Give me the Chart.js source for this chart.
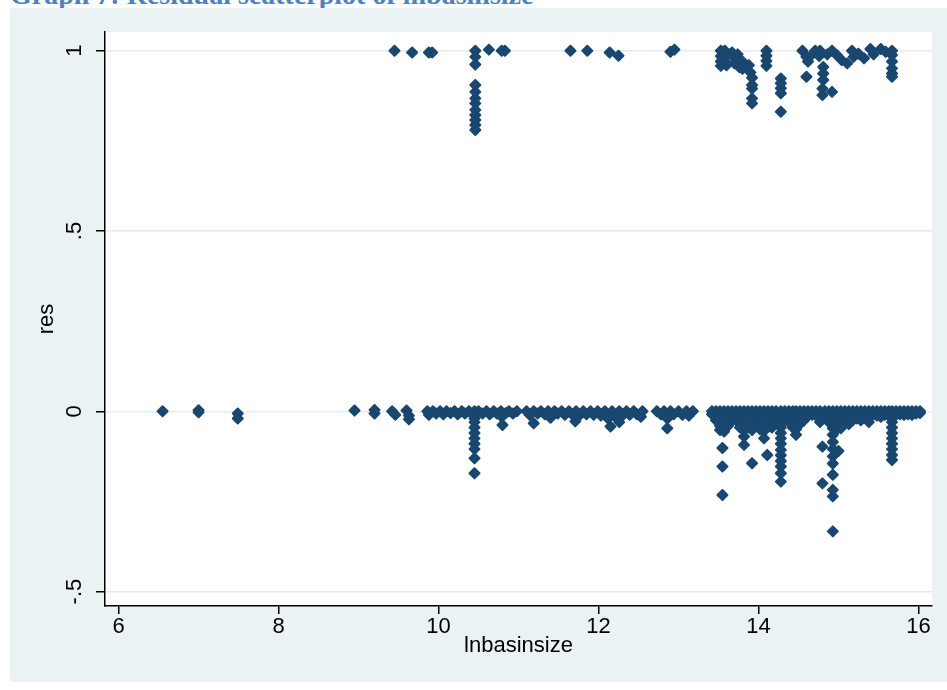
<!DOCTYPE html>
<html>
<head>
<meta charset="utf-8">
<script src="https://cdn.jsdelivr.net/npm/chart.js@4"></script>
<style>
  body { margin: 0; background: #fff; width: 947px; height: 690px; overflow: hidden; position: relative; }
  .caption { position: absolute; left: 10px; top: -19px; font: bold 28px/28px "Liberation Serif", serif; color: #4f81bd; white-space: nowrap; }
  .frame { position: absolute; left: 10px; top: 8px; width: 937px; height: 674px; background: #eaf2f3; }
  canvas { display: block; }
</style>
</head>
<body>
<div class="caption">Graph 7: Residual scatterplot of lnbasinsize</div>
<div class="frame"><canvas id="chart" width="937" height="674"></canvas></div>
<script>
// axis ticks
const xTicks = [6, 8, 10, 12, 14, 16];
const yTicks = [-0.5, 0, 0.5, 1];
const yTickLabels = ['-.5', '0', '.5', '1'];

// points as [lnbasinsize, res]
const upperLeft = [
  [9.45, 1.0], [9.67, 0.995], [9.88, 0.995], [9.92, 0.995],
  [10.46, 1.0], [10.46, 0.983], [10.46, 0.962], [10.46, 0.905], [10.46, 0.886], [10.46, 0.868],
  [10.46, 0.854], [10.46, 0.836], [10.46, 0.822], [10.46, 0.808], [10.46, 0.794], [10.46, 0.78],
  [10.63, 1.003], [10.79, 1.0], [10.83, 1.0],
  [11.65, 1.0], [11.86, 1.0], [12.14, 0.995], [12.25, 0.986],
  [12.9, 0.997], [12.95, 1.003]
];

const upperRight = [
  [13.53, 1.0], [13.53, 0.985], [13.53, 0.97], [13.53, 0.958], [13.58, 1.0], [13.58, 0.985], [13.58, 0.97], [13.6, 0.96],
  [13.67, 0.995], [13.7, 0.98], [13.7, 0.965], [13.74, 0.99], [13.76, 0.975], [13.76, 0.955], [13.8, 0.97], [13.8, 0.95],
  [13.88, 0.96], [13.9, 0.94], [13.92, 0.925], [13.92, 0.905], [13.92, 0.895], [13.92, 0.868], [13.92, 0.854],
  [14.1, 1.0], [14.1, 0.986], [14.1, 0.972], [14.1, 0.958],
  [14.28, 0.923], [14.28, 0.91], [14.28, 0.896], [14.28, 0.882], [14.28, 0.831],
  [14.55, 1.0], [14.6, 0.983], [14.62, 0.97], [14.6, 0.928], [14.67, 0.99], [14.71, 1.0], [14.77, 1.0], [14.76, 0.985],
  [14.81, 0.955], [14.81, 0.937], [14.81, 0.919], [14.8, 0.895], [14.8, 0.877], [14.92, 0.886], [14.92, 1.0], [14.86, 0.99],
  [14.98, 0.988], [15.04, 0.974], [15.11, 0.965], [15.17, 1.0], [15.19, 0.983], [15.25, 0.992], [15.32, 0.979],
  [15.4, 1.005], [15.44, 0.99], [15.53, 1.005], [15.59, 0.997],
  [15.67, 1.0], [15.67, 0.988], [15.67, 0.97], [15.67, 0.951], [15.67, 0.937], [15.67, 0.928]
];

const lowerLeft = [
  [6.55, 0.0], [7.0, 0.003], [7.0, -0.003], [7.49, -0.006], [7.49, -0.02],
  [8.95, 0.002], [9.2, 0.004], [9.2, -0.006], [9.42, 0.0], [9.46, -0.01], [9.6, 0.002], [9.63, -0.012], [9.63, -0.022],
  [9.86, 0.0], [9.88, -0.01], [9.93, 0.0], [9.97, -0.006], [10.02, 0.0], [10.06, -0.008], [10.1, 0.0], [10.15, -0.005],
  [10.2, 0.0], [10.24, -0.008], [10.29, 0.0], [10.33, -0.006], [10.38, 0.0], [10.45, 0.0], [10.45, -0.01], [10.45, -0.02],
  [10.45, -0.03], [10.45, -0.045], [10.45, -0.06], [10.45, -0.075], [10.45, -0.09], [10.45, -0.105], [10.45, -0.13], [10.45, -0.172],
  [10.5, 0.0], [10.55, -0.006], [10.6, 0.0], [10.64, -0.008], [10.69, 0.0], [10.73, -0.006], [10.78, 0.0], [10.79, -0.015],
  [10.8, -0.038], [10.84, -0.005], [10.88, 0.0], [10.93, -0.006], [10.98, 0.0]
];

const lowerMid = [
  [11.1, 0.0], [11.14, -0.01], [11.19, -0.033], [11.19, 0.0], [11.24, -0.006], [11.28, 0.0], [11.33, -0.008], [11.37, 0.0],
  [11.4, -0.018], [11.45, 0.0], [11.49, -0.006], [11.54, 0.0], [11.58, -0.01], [11.63, 0.0], [11.67, -0.008], [11.71, -0.028],
  [11.72, 0.0], [11.76, -0.012], [11.81, 0.0], [11.85, -0.008], [11.9, 0.0], [11.94, -0.01], [11.99, 0.0], [12.03, -0.012],
  [12.08, 0.0], [12.12, -0.02], [12.15, -0.042], [12.17, 0.0], [12.21, -0.015], [12.26, -0.03], [12.26, 0.0], [12.3, -0.012],
  [12.35, 0.0], [12.39, -0.01], [12.44, 0.0], [12.48, -0.008], [12.53, -0.015], [12.55, 0.0],
  [12.73, 0.0], [12.78, -0.008], [12.82, 0.0], [12.86, -0.02], [12.86, -0.047], [12.9, 0.0], [12.94, -0.008], [13.0, 0.0],
  [13.05, -0.01], [13.1, 0.0], [13.13, -0.012], [13.18, 0.0]
];

const lowerRight = [
  [13.42, 0.0], [13.42, -0.008], [13.47, 0.0], [13.47, -0.012], [13.47, -0.025],
  [13.52, 0.0], [13.52, -0.012], [13.52, -0.025], [13.52, -0.04], [13.52, -0.052],
  [13.55, -0.102], [13.55, -0.153], [13.55, -0.232],
  [13.57, 0.0], [13.57, -0.015], [13.57, -0.03], [13.57, -0.045], [13.57, -0.056],
  [13.62, 0.0], [13.62, -0.012], [13.62, -0.025], [13.62, -0.04],
  [13.67, 0.0], [13.67, -0.012], [13.67, -0.024], [13.72, 0.0], [13.72, -0.012], [13.72, -0.025],
  [13.77, 0.0], [13.77, -0.015], [13.77, -0.03], [13.77, -0.045],
  [13.82, 0.0], [13.82, -0.015], [13.82, -0.03], [13.82, -0.05], [13.82, -0.07], [13.82, -0.093],
  [13.87, 0.0], [13.87, -0.012], [13.87, -0.03], [13.87, -0.045],
  [13.92, 0.0], [13.92, -0.015], [13.92, -0.035], [13.92, -0.052], [13.92, -0.144],
  [13.97, 0.0], [13.97, -0.012], [13.97, -0.025], [13.97, -0.04],
  [14.02, 0.0], [14.02, -0.015], [14.02, -0.03], [14.02, -0.05],
  [14.07, 0.0], [14.07, -0.015], [14.07, -0.035], [14.07, -0.055], [14.07, -0.075], [14.11, -0.121],
  [14.12, 0.0], [14.12, -0.012], [14.12, -0.025], [14.17, 0.0], [14.17, -0.012], [14.17, -0.03], [14.17, -0.045],
  [14.22, 0.0], [14.22, -0.015], [14.22, -0.03],
  [14.28, 0.0], [14.28, -0.015], [14.28, -0.03], [14.28, -0.045], [14.28, -0.06], [14.28, -0.075], [14.28, -0.09],
  [14.28, -0.107], [14.28, -0.122], [14.28, -0.138], [14.28, -0.153], [14.28, -0.172], [14.28, -0.195],
  [14.33, 0.0], [14.33, -0.012], [14.33, -0.025], [14.38, 0.0], [14.38, -0.015], [14.38, -0.03],
  [14.43, 0.0], [14.43, -0.015], [14.43, -0.03], [14.43, -0.045],
  [14.47, 0.0], [14.47, -0.012], [14.47, -0.03], [14.47, -0.05], [14.47, -0.065],
  [14.52, 0.0], [14.52, -0.015], [14.52, -0.035], [14.57, 0.0], [14.57, -0.012], [14.57, -0.025],
  [14.62, 0.0], [14.62, -0.012], [14.67, 0.0], [14.67, -0.01], [14.72, 0.0], [14.72, -0.012],
  [14.77, 0.0], [14.77, -0.015], [14.77, -0.03], [14.8, -0.098], [14.8, -0.2],
  [14.83, 0.0], [14.83, -0.015], [14.88, 0.0], [14.88, -0.015], [14.88, -0.03],
  [14.93, 0.0], [14.93, -0.015], [14.93, -0.03], [14.93, -0.047], [14.93, -0.065], [14.93, -0.085], [14.93, -0.105],
  [14.93, -0.125], [14.93, -0.145], [14.93, -0.176], [14.93, -0.218], [14.93, -0.236], [14.93, -0.333],
  [14.98, 0.0], [14.98, -0.012], [14.98, -0.03], [14.98, -0.05], [15.0, -0.11],
  [15.03, 0.0], [15.03, -0.015], [15.03, -0.03], [15.03, -0.047],
  [15.08, 0.0], [15.08, -0.012], [15.08, -0.025], [15.13, 0.0], [15.13, -0.012], [15.13, -0.025], [15.13, -0.035],
  [15.18, 0.0], [15.18, -0.012], [15.18, -0.025], [15.23, 0.0], [15.23, -0.012], [15.23, -0.02],
  [15.28, 0.0], [15.28, -0.012], [15.28, -0.025], [15.33, 0.0], [15.33, -0.012],
  [15.38, 0.0], [15.38, -0.015], [15.38, -0.03], [15.43, 0.0], [15.43, -0.01], [15.48, 0.0], [15.48, -0.012],
  [15.53, 0.0], [15.53, -0.015], [15.58, 0.0], [15.58, -0.01], [15.63, 0.0], [15.63, -0.012],
  [15.67, 0.0], [15.67, -0.015], [15.67, -0.03], [15.67, -0.045], [15.67, -0.06], [15.67, -0.075], [15.67, -0.09],
  [15.67, -0.105], [15.67, -0.121], [15.67, -0.135],
  [15.72, 0.0], [15.72, -0.01], [15.77, 0.0], [15.77, -0.008], [15.82, 0.0], [15.82, -0.01],
  [15.87, 0.0], [15.87, -0.008], [15.92, 0.0], [15.92, -0.01], [15.97, 0.0], [15.97, -0.006], [16.02, 0.0], [16.02, -0.005]
];

const points = [...upperLeft, ...upperRight, ...lowerLeft, ...lowerMid, ...lowerRight]
  .map(([x, y]) => ({ x, y }));

const textFont = '"Liberation Sans", Arial, sans-serif';

// white plot region like stata's
const plotBg = {
  id: 'plotBg',
  beforeDraw(chart) {
    const { ctx, chartArea: a } = chart;
    ctx.save();
    ctx.fillStyle = '#fff';
    ctx.fillRect(a.left, a.top, a.right - a.left, a.bottom - a.top);
    ctx.restore();
  },
  // rounder diamonds
  beforeDatasetsDraw(chart) {
    chart.ctx.lineJoin = 'round';
  }
};

// stata draws the y labels turned on their side
const rotatedYTicks = {
  id: 'rotatedYTicks',
  afterDraw(chart) {
    const { ctx } = chart;
    const y = chart.scales.y;
    ctx.save();
    ctx.font = '22px ' + textFont;
    ctx.fillStyle = '#000';
    ctx.textAlign = 'center';
    ctx.textBaseline = 'middle';
    yTicks.forEach((v, i) => {
      ctx.save();
      ctx.translate(65, y.getPixelForValue(v));
      ctx.rotate(-Math.PI / 2);
      ctx.fillText(yTickLabels[i], 0, 0);
      ctx.restore();
    });
    ctx.restore();
  }
};

new Chart(document.getElementById('chart'), {
  type: 'scatter',
  data: {
    datasets: [{
      label: 'res',
      data: points,
      pointStyle: 'rectRot',
      pointRadius: 5,
      pointHoverRadius: 5,
      backgroundColor: '#1a476f',
      borderColor: '#1a476f',
      borderWidth: 2
    }]
  },
  options: {
    responsive: false,
    animation: false,
    layout: { padding: { left: 0, top: 24, right: 15, bottom: 0 } },
    plugins: { legend: { display: false }, tooltip: { enabled: false } },
    scales: {
      x: {
        type: 'linear',
        min: 5.83,
        max: 16.17,
        afterBuildTicks: s => { s.ticks = xTicks.map(v => ({ value: v })); },
        afterFit: s => { s.height = 76; },
        grid: { drawOnChartArea: false, color: '#000', tickColor: '#000', tickLength: 8, lineWidth: 1.5 },
        border: { color: '#000', width: 1.5 },
        ticks: { color: '#000', padding: 0, maxRotation: 0, font: { family: textFont, size: 22 } },
        title: { display: true, text: 'lnbasinsize', color: '#000', font: { family: textFont, size: 22 }, padding: { top: 0, bottom: 23 } }
      },
      y: {
        type: 'linear',
        min: -0.54,
        max: 1.052,
        afterBuildTicks: s => { s.ticks = yTicks.map(v => ({ value: v })); },
        afterFit: s => { s.width = 95; },
        grid: { color: '#e3ecee', tickColor: '#000', tickLength: 9, lineWidth: 1.5 },
        border: { color: '#000', width: 1.5 },
        ticks: { display: false },
        title: { display: true, text: 'res', color: '#000', font: { family: textFont, size: 22 }, padding: { top: 24, bottom: 0 } }
      }
    }
  },
  plugins: [plotBg, rotatedYTicks]
});
</script>
</body>
</html>
